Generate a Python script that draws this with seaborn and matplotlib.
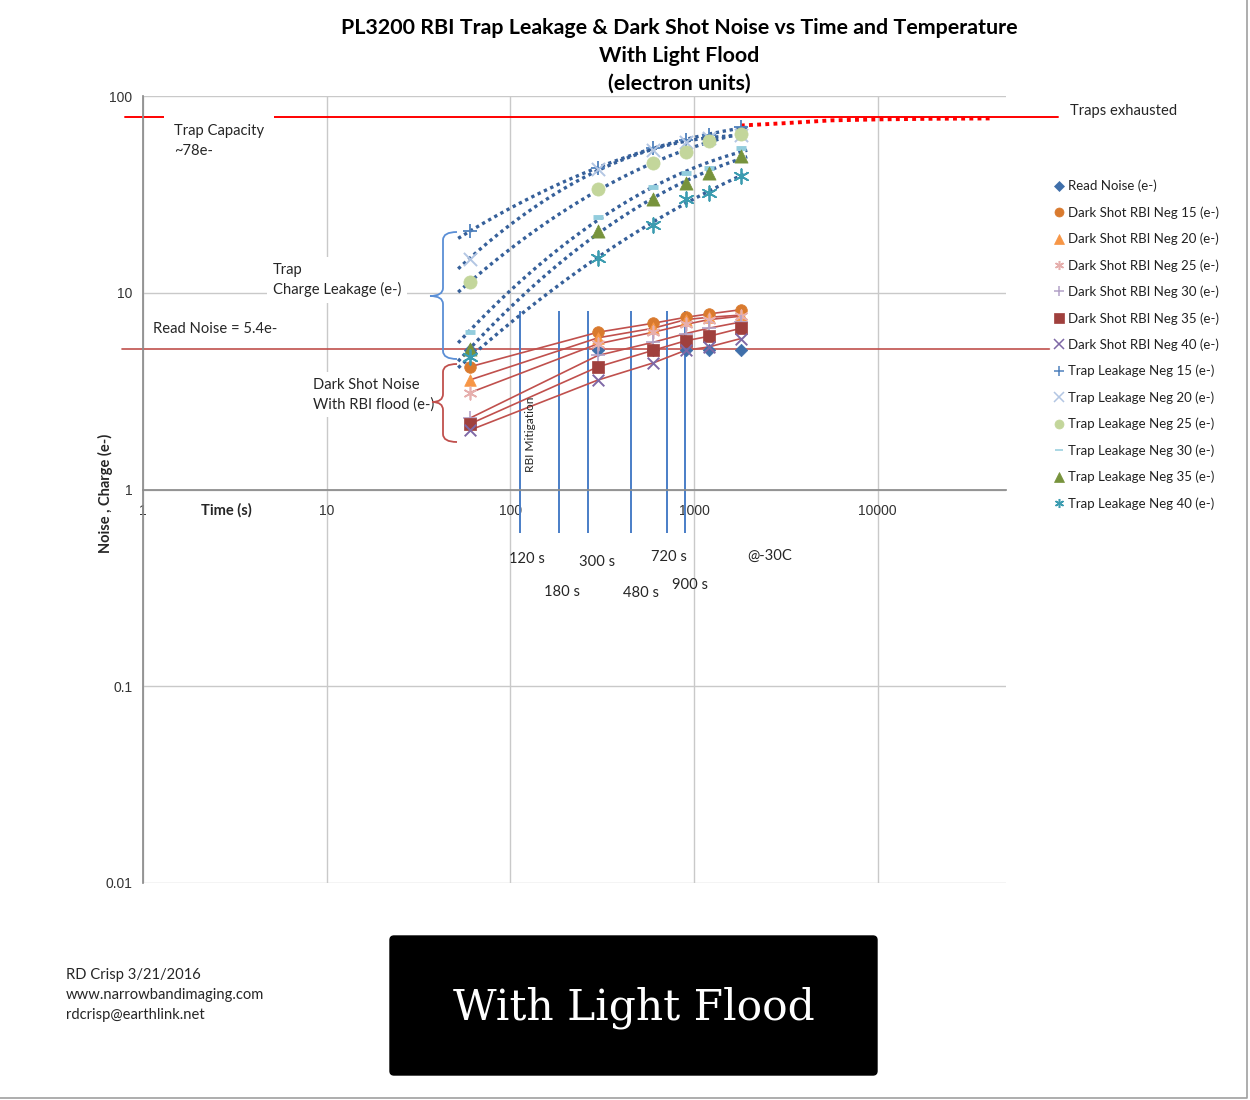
import numpy as np
import pandas as pd
import matplotlib
matplotlib.use("Agg")
import matplotlib.pyplot as plt
import matplotlib.ticker as mticker
import matplotlib.transforms as mtransforms
from matplotlib.lines import Line2D
from matplotlib.path import Path
from matplotlib.patches import PathPatch, FancyBboxPatch
import seaborn as sns

# ---------------- data ----------------
times = [60, 300, 600, 900, 1200, 1800]

read_noise = [5.1, 5.1, 5.1, 5.1, 5.1, 5.1]
dark_15 = [4.2, 6.3, 7.0, 7.5, 7.8, 8.2]
dark_20 = [3.6, 5.9, 6.6, 7.3, 7.5, 7.7]
dark_25 = [3.1, 5.5, 6.3, 6.9, 7.3, 7.6]
dark_30 = [2.3, 4.8, 5.6, 6.2, 6.6, 7.1]
dark_35 = [2.15, 4.2, 5.1, 5.7, 6.0, 6.6]
dark_40 = [2.0, 3.6, 4.4, 5.1, 5.3, 5.85]

trap_15 = [20.5, 43.3, 54.7, 60.1, 63.0, 69.2]
trap_20 = [14.9, 42.6, 52.9, 58.6, 61.0, 63.5]
trap_25 = [11.3, 33.5, 45.4, 52.2, 59.4, 64.4]
trap_30 = [6.35, 24.4, 34.3, 40.8, 43.3, 54.7]
trap_35 = [5.15, 20.7, 29.8, 36.3, 40.8, 49.3]
trap_40 = [4.69, 15.1, 22.2, 30.1, 32.3, 39.0]

exhaust_t = [1800, 3000, 5600, 10500, 20000, 41000]
exhaust_v = [70.8, 72.6, 75.2, 76.1, 76.6, 76.9]

trap_capacity = 78
read_noise_level = 5.2

mitigation_t = [113, 184, 264, 453, 713, 894]
mitigation_labels = ["120 s", "180 s", "300 s", "480 s", "720 s", "900 s"]

x_ticks = [1, 10, 100, 1000, 10000]
x_tick_labels = ["1", "10", "100", "1000", "10000"]
y_ticks = [0.01, 0.1, 1, 10, 100]
y_tick_labels = ["0.01", "0.1", "1", "10", "100"]

series_names = [
    "Read Noise (e-)",
    "Dark Shot RBI Neg 15 (e-)", "Dark Shot RBI Neg 20 (e-)", "Dark Shot RBI Neg 25 (e-)",
    "Dark Shot RBI Neg 30 (e-)", "Dark Shot RBI Neg 35 (e-)", "Dark Shot RBI Neg 40 (e-)",
    "Trap Leakage Neg 15 (e-)", "Trap Leakage Neg 20 (e-)", "Trap Leakage Neg 25 (e-)",
    "Trap Leakage Neg 30 (e-)", "Trap Leakage Neg 35 (e-)", "Trap Leakage Neg 40 (e-)",
]
series_values = [read_noise, dark_15, dark_20, dark_25, dark_30, dark_35, dark_40,
                 trap_15, trap_20, trap_25, trap_30, trap_35, trap_40]

# ---------------- styles ----------------
ASTER = (6, 2, 0)
styles = [
    dict(marker="D", color="#3F6FAA", s=40),
    dict(marker="o", color="#D97A2E", s=70),
    dict(marker="^", color="#F79646", s=70),
    dict(marker=ASTER, color="#E6AFAD", s=80, lw=1.2),
    dict(marker="+", color="#B3A2C7", s=90, lw=1.2),
    dict(marker="s", color="#A0403D", s=75),
    dict(marker="x", color="#7E68A6", s=70, lw=1.4),
    dict(marker="+", color="#4F81BD", s=110, lw=1.3),
    dict(marker="x", color="#B3C6E3", s=90, lw=1.4),
    dict(marker="o", color="#C3D69B", s=90),
    dict(marker="_", color="#93CDDD", s=55, lw=3.5),
    dict(marker="^", color="#77933C", s=90),
    dict(marker=ASTER, color="#3C9CB0", s=110, lw=1.3),
]

W, H = 1250, 1100
sns.set_theme(style="white")
plt.rcParams["font.family"] = ["Lato", "DejaVu Sans"]

fig = plt.figure(figsize=(12.5, 11), dpi=100)
fig.patch.set_facecolor("white")
ax = fig.add_axes([143 / W, 1 - 883 / H, (1006 - 143) / W, (883 - 96) / H])
ax.set_facecolor("white")

ax.set_xscale("log")
ax.set_yscale("log")
ax.set_xlim(1, 50000)
ax.set_ylim(0.01, 100)

# grid and axes
ax.grid(True, which="major", color="#C9C9C9", lw=1.0, zorder=0)
ax.set_axisbelow(True)
for sp in ["top", "right"]:
    ax.spines[sp].set_visible(False)
ax.spines["left"].set_color("#8C8C8C")
ax.spines["bottom"].set_color("#8C8C8C")
ax.spines["bottom"].set_position(("data", 1))
ax.set_xticks(x_ticks)
ax.set_xticklabels(x_tick_labels)
ax.set_yticks(y_ticks)
ax.set_yticklabels(y_tick_labels)
ax.xaxis.set_minor_locator(mticker.LogLocator(base=10, subs=np.arange(2, 10), numticks=20))
ax.yaxis.set_minor_locator(mticker.LogLocator(base=10, subs=np.arange(2, 10), numticks=20))
ax.xaxis.set_minor_formatter(mticker.NullFormatter())
ax.yaxis.set_minor_formatter(mticker.NullFormatter())
ax.tick_params(which="major", direction="inout", length=7, width=1, color="#8C8C8C",
               labelsize=10, labelcolor="#333333")
ax.tick_params(which="minor", direction="inout", length=6, width=1, color="#8C8C8C")
ax.tick_params(axis="x", which="major", pad=7)
ax.tick_params(axis="y", which="major", pad=4)
for lab in ax.get_xticklabels() + ax.get_yticklabels():
    lab.set_fontfamily(["Liberation Sans", "DejaVu Sans"])

# helper transforms
inch = fig.dpi_scale_trans
def P(x, y):
    return (x / 100.0, (H - y) / 100.0)

fig_x_data_y = mtransforms.blended_transform_factory(inch, ax.transData)

# reference lines
ax.plot([122 / 100, 1050 / 100], [read_noise_level, read_noise_level], transform=fig_x_data_y,
        color="#C0504D", lw=1.2, clip_on=False, zorder=2)
ax.plot([125 / 100, 1058 / 100], [trap_capacity, trap_capacity], transform=fig_x_data_y,
        color="#FF0000", lw=1.4, clip_on=False, zorder=2)

# RBI mitigation lines
ax.vlines(mitigation_t, 0.6, 8.1, color="#4A7EC7", lw=1.4, zorder=2)

# dark shot connecting lines
for vals in [dark_15, dark_20, dark_25, dark_30, dark_35, dark_40]:
    sns.lineplot(x=times, y=vals, ax=ax, color="#C0504D", lw=1.2, legend=False,
                 estimator=None, zorder=3)

# trap leakage trendlines (dotted)
tt = np.geomspace(52, 1950, 200)
for vals in [trap_15, trap_20, trap_25, trap_30, trap_35, trap_40]:
    c = np.polyfit(np.log10(times), np.log10(vals), 2)
    yy = 10 ** np.polyval(c, np.log10(tt))
    ax.plot(tt, yy, color="#36609A", lw=2.4, linestyle=(0, (1, 1.1)), zorder=5,
            dash_capstyle="butt")

# traps exhausted dotted extension
ax.plot(exhaust_t, exhaust_v, color="#FF0000", lw=2.8, linestyle=(0, (1, 1.1)), zorder=5,
        dash_capstyle="butt")

# markers
for name, vals, st in zip(series_names, series_values, styles):
    kw = dict(x=times, y=vals, ax=ax, marker=st["marker"], s=st["s"], color=st["color"],
              legend=False, zorder=6)
    m = matplotlib.markers.MarkerStyle(st["marker"])
    if m.is_filled():
        kw["edgecolor"] = st["color"]
        kw["linewidth"] = 0.5
    else:
        kw["linewidth"] = st.get("lw", 1.2)
    sns.scatterplot(**kw)

ax.set_xlabel("")
ax.set_ylabel("")

# legend
handles = []
for st in styles:
    m = matplotlib.markers.MarkerStyle(st["marker"])
    ms = 6.5 if st["marker"] != "D" else 5
    if st["marker"] == "_":
        ms = 6
    handles.append(Line2D([], [], linestyle="None", marker=st["marker"], color=st["color"],
                          markeredgecolor=st["color"], markersize=ms,
                          markeredgewidth=(min(st.get("lw", 1.0), 1.1) if not m.is_filled() else 0.5)))
leg = fig.legend(handles, series_names, loc="upper left",
                 bbox_to_anchor=(1050 / W, 1 - 177 / H), frameon=True, fontsize=9.5,
                 handlelength=0.9, handletextpad=0.25, labelspacing=1.055, borderpad=0.2,
                 borderaxespad=0)
leg.get_frame().set_facecolor("white")
leg.get_frame().set_edgecolor("white")
for t in leg.get_texts():
    t.set_color("#222222")

# titles
for y, s in [(28, "PL3200 RBI Trap Leakage & Dark Shot Noise vs Time and Temperature"),
             (56, "With Light Flood"), (84, "(electron units)")]:
    fig.text(679 / W, 1 - y / H, s, ha="center", va="center", fontsize=15.4,
             fontweight="bold", color="black")

# axis titles
fig.text(226 / W, 1 - 510 / H, "Time (s)", ha="center", va="center", fontsize=10.5,
         fontweight="bold")
fig.text(105 / W, 1 - 493 / H, "Noise , Charge (e-)", ha="center", va="center",
         fontsize=10.5, fontweight="bold", rotation=90)

white_box = dict(facecolor="white", edgecolor="none", pad=4)
fs_ann = 10.6
fig.text(174 / W, 1 - 124 / H, "Trap Capacity\n~78e-", ha="left", va="top", fontsize=fs_ann,
         linespacing=1.5, bbox=dict(facecolor="white", edgecolor="none", pad=7), zorder=4)
fig.text(273 / W, 1 - 263 / H, "Trap\nCharge Leakage (e-)", ha="left", va="top",
         fontsize=fs_ann, linespacing=1.42, bbox=white_box, zorder=4)
fig.text(153 / W, 1 - 329 / H, "Read Noise = 5.4e-", ha="left", va="center", fontsize=fs_ann,
         zorder=4)
fig.text(313 / W, 1 - 378 / H, "Dark Shot Noise\nWith RBI flood (e-)", ha="left", va="top",
         fontsize=fs_ann, linespacing=1.45, bbox=white_box, zorder=4)
fig.text(1070 / W, 1 - 111 / H, "Traps exhausted", ha="left", va="center", fontsize=fs_ann)

fig.text(530 / W, 1 - 434 / H, "RBI Mitigation", ha="center", va="center", fontsize=8.6,
         rotation=90)
label_pos = [(527, 559), (562, 592), (597, 562), (641, 593), (669, 557), (690, 585)]
for (x, y), s in zip(label_pos, mitigation_labels):
    fig.text(x / W, 1 - y / H, s, ha="center", va="center", fontsize=fs_ann)
fig.text(770 / W, 1 - 556 / H, "@-30C", ha="center", va="center", fontsize=fs_ann)

# brackets
def brace(x_tip, y_tip, x_v, x_end, y_top, y_bot, color):
    verts = [P(x_end, y_top), P(x_v, y_top), P(x_v, y_top + 8),
             P(x_v, y_tip - 8), P(x_v, y_tip), P(x_tip, y_tip),
             P(x_v, y_tip), P(x_v, y_tip + 8),
             P(x_v, y_bot - 8), P(x_v, y_bot), P(x_end, y_bot)]
    codes = [Path.MOVETO, Path.CURVE3, Path.CURVE3,
             Path.LINETO, Path.CURVE3, Path.CURVE3,
             Path.CURVE3, Path.CURVE3,
             Path.LINETO, Path.CURVE3, Path.CURVE3]
    patch = PathPatch(Path(verts, codes), transform=inch, facecolor="none", edgecolor=color,
                      lw=1.3, zorder=6)
    fig.add_artist(patch)

brace(430, 296, 443, 457, 232, 359, "#5B8FD6")
brace(432, 402, 443, 457, 364, 442, "#C0504D")

# credits
for y, s in [(975, "RD Crisp 3/21/2016"), (995, "www.narrowbandimaging.com"),
             (1015, "rdcrisp@earthlink.net")]:
    fig.text(66 / W, 1 - y / H, s, ha="left", va="center", fontsize=10.6)

# black box
box = FancyBboxPatch(P(390, 1075), (877 - 390) / 100, (1075 - 936) / 100,
                     boxstyle="round,pad=0,rounding_size=0.04", transform=inch,
                     facecolor="black", edgecolor="black")
fig.add_artist(box)
fig.text(634 / W, 1 - 1008 / H, "With Light Flood", ha="center", va="center", color="white",
         fontsize=30.5, family=["DejaVu Serif"])

# outer border lines (right and bottom)
fig.add_artist(Line2D([0, 1247 / W, 1247 / W], [2 / H, 2 / H, 1], transform=fig.transFigure,
                      color="#A0A0A0", lw=1.2))

fig.savefig("out.png", dpi=100, facecolor="white")
